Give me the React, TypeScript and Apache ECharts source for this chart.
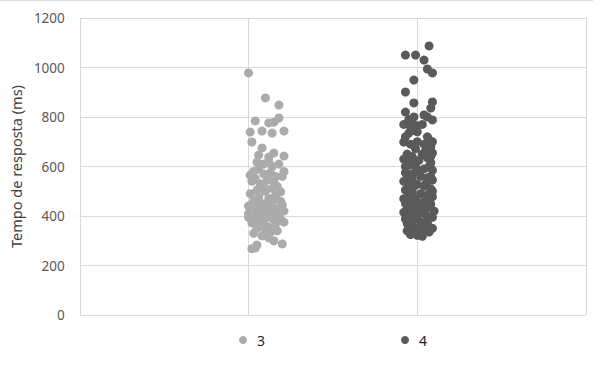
import React, { useEffect, useRef } from "react";
import * as echarts from "echarts";

const seriesNames = ["3", "4"];
const yTicks = { min: 0, max: 1200, interval: 200 };
const yAxisTitle = "Tempo de resposta (ms)";

const group3: [number, number][] = [
  [1.0, 978], [1.1, 877], [1.18, 848], [1.18, 796], [1.04, 784], [1.12, 776], [1.15, 779],
  [1.21, 743], [1.01, 739], [1.08, 743], [1.14, 735], [1.02, 699], [1.08, 675], [1.06, 646],
  [1.12, 638], [1.15, 655], [1.21, 642], [1.05, 618], [1.12, 622], [1.18, 610],
  [1.01, 565], [1.04, 552], [1.09, 570], [1.13, 575], [1.16, 560], [1.21, 580], [1.02, 540],
  [1.07, 530], [1.11, 545], [1.17, 520], [1.05, 505], [1.1, 500], [1.14, 512], [1.19, 498],
  [1.01, 490], [1.06, 478], [1.12, 470], [1.16, 482], [1.03, 460], [1.08, 450], [1.14, 455],
  [1.2, 445], [1.0, 440], [1.05, 430], [1.1, 425], [1.15, 432], [1.21, 420], [1.02, 410],
  [1.07, 402], [1.12, 408], [1.18, 400], [1.0, 395], [1.04, 385], [1.09, 380], [1.14, 390],
  [1.19, 385], [1.02, 372], [1.07, 365], [1.11, 358], [1.16, 368], [1.21, 375], [1.05, 350],
  [1.1, 345], [1.13, 335], [1.17, 340], [1.03, 330], [1.08, 320], [1.12, 312], [1.15, 300],
  [1.2, 287], [1.05, 283], [1.04, 271], [1.02, 268], [1.13, 350], [1.09, 610], [1.14, 600],
  [1.06, 590], [1.03, 580], [1.19, 460], [1.0, 410], [1.11, 440], [1.08, 420], [1.13, 470],
  [1.06, 400], [1.16, 410], [1.18, 430], [1.04, 445], [1.09, 520], [1.15, 540], [1.2, 560],
];

const group4: [number, number][] = [
  [2.07, 1087], [1.93, 1050], [1.99, 1050], [2.04, 1030], [2.06, 994], [2.09, 978], [1.98, 949],
  [1.93, 901], [1.98, 857], [2.09, 861], [1.93, 820], [2.08, 836], [2.04, 808], [2.09, 788],
  [2.06, 800], [1.95, 790], [1.97, 775], [1.92, 770], [2.0, 765], [1.96, 760], [1.95, 735],
  [1.97, 745], [1.93, 720], [1.92, 699], [2.07, 707], [2.09, 700], [2.08, 679], [1.96, 690],
  [1.99, 672], [2.05, 665], [2.09, 655], [1.94, 650], [1.92, 630], [1.97, 640], [2.01, 625],
  [2.06, 635], [2.08, 615], [1.95, 605], [1.99, 598], [2.04, 590], [2.09, 585], [1.93, 575],
  [1.97, 570], [2.02, 560], [2.06, 555], [2.09, 545], [1.92, 540], [1.95, 530], [2.0, 528],
  [2.04, 520], [2.08, 510], [1.93, 505], [1.97, 498], [2.02, 490], [2.06, 485], [2.09, 478],
  [1.92, 470], [1.96, 462], [2.0, 455], [2.04, 458], [2.08, 448], [1.94, 440], [1.98, 432],
  [2.03, 428], [2.07, 435], [2.1, 420], [1.92, 415], [1.96, 408], [2.0, 400], [2.05, 405],
  [2.09, 395], [1.93, 388], [1.97, 380], [2.02, 375], [2.06, 370], [1.95, 360], [1.99, 352],
  [2.04, 345], [2.09, 350], [1.94, 340], [1.97, 330], [2.0, 322], [2.03, 318], [2.07, 335],
  [1.96, 325], [1.99, 470], [2.01, 580], [1.98, 520], [2.05, 530], [1.95, 480], [2.03, 650],
  [2.0, 700], [1.98, 610], [2.07, 600], [1.94, 560], [2.02, 440], [1.96, 500], [2.05, 460],
  [2.08, 560], [1.99, 390], [2.01, 410], [1.95, 425], [2.09, 500], [2.06, 380], [1.93, 450],
  [1.97, 550], [2.04, 690], [2.0, 740], [2.03, 770], [1.98, 800], [2.06, 720], [1.93, 600],
  [2.08, 640], [1.96, 620], [2.01, 350], [1.94, 370],
];

const colors = ["#ABABAB", "#5A5A5A"];
const FONT = '"Noto Sans", "Open Sans", sans-serif';

export default function App() {
  const ref = useRef<HTMLDivElement>(null);
  useEffect(() => {
    document.body.style.margin = "0";
    if (!ref.current) return;
    const chart = echarts.init(ref.current, undefined, { renderer: "svg" });
    const legendBase = {
      orient: "horizontal" as const,
      icon: "circle",
      itemWidth: 18,
      itemHeight: 8,
      top: 328,
      textStyle: { color: "#262626", fontSize: 14, fontFamily: FONT },
    };
    chart.setOption({
      animation: false,
      backgroundColor: "#ffffff",
      grid: { left: 78, right: 14, top: 18, bottom: 51, containLabel: false },
      xAxis: {
        type: "value",
        min: 0,
        max: 3,
        interval: 1,
        axisLine: { show: false },
        axisTick: { show: false },
        axisLabel: { show: false },
        splitLine: { show: true, lineStyle: { color: "#D9D9D9", width: 1 } },
      },
      yAxis: {
        type: "value",
        min: yTicks.min,
        max: yTicks.max,
        interval: yTicks.interval,
        name: yAxisTitle,
        nameLocation: "middle",
        nameGap: 50,
        nameTextStyle: { color: "#404040", fontSize: 14.5, fontFamily: FONT },
        axisLine: { show: false },
        axisTick: { show: false },
        axisLabel: {
          color: "#595959",
          fontSize: 13.5,
          fontFamily: FONT,
          margin: 15,
          formatter: (v: number) => String(v),
        },
        splitLine: { show: true, lineStyle: { color: "#D9D9D9", width: 1 } },
      },
      legend: [
        { ...legendBase, left: 234, data: [seriesNames[0]] },
        { ...legendBase, left: 396, data: [seriesNames[1]] },
      ],
      graphic: [
        {
          type: "line",
          shape: { x1: 0, y1: 0.5, x2: 593, y2: 0.5 },
          style: { stroke: "#D9D9D9", lineWidth: 1 },
          silent: true,
        },
      ],
      series: [
        {
          name: seriesNames[0],
          type: "scatter",
          data: group3,
          symbol: "circle",
          symbolSize: 9,
          itemStyle: { color: colors[0], opacity: 1 },
        },
        {
          name: seriesNames[1],
          type: "scatter",
          data: group4,
          symbol: "circle",
          symbolSize: 9,
          itemStyle: { color: colors[1], opacity: 1 },
        },
      ],
    });
    return () => chart.dispose();
  }, []);
  return (
    <div
      ref={ref}
      style={{ position: "absolute", left: 0, top: 0, width: 600, height: 366 }}
    />
  );
}
